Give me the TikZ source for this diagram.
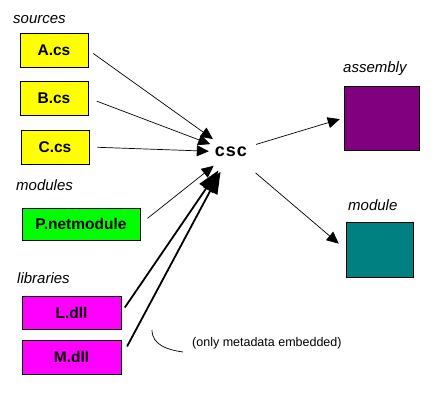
\documentclass[tikz,border=0pt]{standalone}
\usepackage{fontspec}
\setmainfont{Liberation Sans}
\usepackage{xcolor}
\usetikzlibrary{positioning,arrows.meta}
\definecolor{srcyellow}{RGB}{255,255,0}
\definecolor{modgreen}{RGB}{0,255,0}
\definecolor{libpink}{RGB}{255,0,255}
\definecolor{asmpurple}{RGB}{128,0,128}
\definecolor{modteal}{RGB}{0,128,128}

\begin{document}
\begin{tikzpicture}[x=1pt,y=-1pt,
    box/.style={draw=black,line width=0.8pt,inner sep=0pt,font=\fontsize{15.5}{15.5}\selectfont\bfseries},
    grp/.style={anchor=west,inner sep=0pt,font=\fontsize{15}{15}\selectfont\itshape},
    feed/.style={-{Triangle[length=12pt,width=11pt]},line width=0.7pt,shorten <=8pt},
    libfeed/.style={-{Triangle[length=22pt,width=16pt]},line width=1.8pt,shorten <=6pt}]
  \useasboundingbox (0,0) rectangle (440,392);
  % inputs
  \node[box,fill=srcyellow,minimum width=68pt,minimum height=34pt] (A) at (54,50) {A.cs};
  \node[box,fill=srcyellow,minimum width=68pt,minimum height=34pt] (B) at (54,98) {B.cs};
  \node[box,fill=srcyellow,minimum width=68pt,minimum height=34pt] (C) at (55,147) {C.cs};
  \node[box,fill=modgreen,minimum width=118pt,minimum height=32pt] (P) at (81,224) {P.netmodule};
  \node[box,fill=libpink,minimum width=99pt,minimum height=33pt] (L) at (71.5,312.5) {L.dll};
  \node[box,fill=libpink,minimum width=99pt,minimum height=34pt] (M) at (71.5,357) {M.dll};
  % outputs
  \node[box,fill=asmpurple,minimum width=75pt,minimum height=64pt] (asm) at (381.5,118) {};
  \node[box,fill=modteal,minimum width=67pt,minimum height=55pt] (mod) at (379.5,249.5) {};
  % compiler
  \node[circle,minimum size=44pt,inner sep=0pt,font=\fontsize{18}{18}\selectfont\bfseries] (csc) at (231,152) {c\kern1pt s\kern1pt c};
  % group labels
  \node[grp] (sources) at (13,20) {sources};
  \node[grp] (modules) at (16,185) {modules};
  \node[grp] (libraries) at (17,278) {libraries};
  \node[grp] (assembly) at (343,69) {assembly};
  \node[grp] (module) at (348,205) {module};
  \node[anchor=west,inner sep=0pt,font=\fontsize{12.5}{12.5}\selectfont] (note) at (192,343) {(only metadata embedded)};
  \coordinate (bend) at (152,330);
  \coordinate (noteend) at (183,352);
  \path (A.east) edge[feed,shorten <=6pt] (csc)
        (B.east) edge[feed,shorten <=9pt] (csc)
        (C.east) edge[feed] (csc)
        (P.east) edge[feed,shorten <=9pt] (csc)
        (L.east) edge[libfeed] (csc)
        (M.east) edge[libfeed,shorten <=12pt] (csc)
        (csc) edge[feed,shorten <=4pt,shorten >=4pt] (asm.west)
        (csc) edge[feed,shorten <=10pt,shorten >=9pt] (mod.west);
  \draw[line width=0.7pt] (bend) .. controls (152,345) and (168,350) .. (noteend);
\end{tikzpicture}
\end{document}
